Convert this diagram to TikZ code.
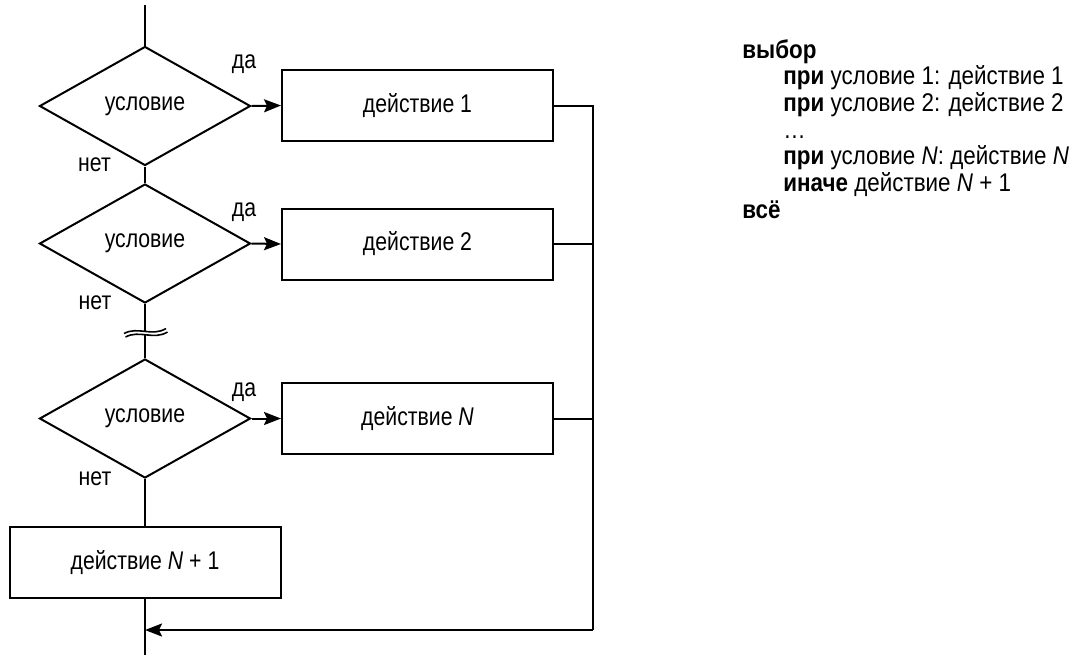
\documentclass[tikz,border=0pt]{standalone}
\usepackage{fontspec}
\setmainfont{Liberation Sans}[FakeStretch=0.83]
\newfontfamily\codefont{Liberation Sans}[FakeStretch=0.875]
\usetikzlibrary{shapes.geometric,arrows.meta}

\begin{document}
\begin{tikzpicture}[x=0.5pt,y=-0.5pt,
  every node/.style={font=\fontsize{12.8}{15}\selectfont},
  line/.style={line width=1pt},
  flow/.style={line width=1pt,-{Stealth[length=8.5pt,width=6.5pt,inset=1.5pt]}},
  brk/.style={line width=0.8pt},
  cond/.style={draw,line width=1pt,diamond,aspect=1.77,inner sep=0pt,
               minimum width=105.5pt,minimum height=59.5pt},
  act/.style={draw,line width=1pt,rectangle,inner sep=0pt,
              minimum width=135.5pt,minimum height=35.5pt},
  lbl/.style={inner sep=0pt},
  code/.style={anchor=base west,inner sep=0pt,
               font=\codefont\fontsize{12.8}{15}\selectfont}]
\useasboundingbox (0,0) rectangle (1079,655);

% decisions
\node[cond] (c1) at (145,106)   {условие};
\node[cond] (c2) at (145,243.5) {условие};
\node[cond] (c3) at (145,418.5) {условие};

% actions
\node[act] (a1) at (417.5,105.5) {действие 1};
\node[act] (a2) at (417.5,244)   {действие 2};
\node[act] (a3) at (417.5,418.5) {действие \textit{N}};
\node[act] (a4) at (145,562.5)   {действие \textit{N} + 1};

% branch labels
\node[lbl] (y1) at (244,64.5)  {да};
\node[lbl] (y2) at (244,212)   {да};
\node[lbl] (y3) at (244,392.5) {да};
\node[lbl] (n1) at (94.5,164.5) {нет};
\node[lbl] (n2) at (95,303)     {нет};
\node[lbl] (n3) at (95,478.5)   {нет};

% helper points on the main line and the return rail
\coordinate (top)  at (145,5);
\coordinate (bot)  at (145,655);
\coordinate (join) at (145,630);
\coordinate (rail) at (593,630);
\coordinate (brkA) at (145,331.4);
\coordinate (brkB) at (145,335);

% main line
\draw[line] (top) -- (c1.north);
\draw[line] (c1.south) -- (c2.north);
\draw[line] (c2.south) -- (brkA);
\draw[line] (brkB) -- (c3.north);
\draw[line] (c3.south) -- (a4.north);
\draw[line] (a4.south) -- (bot);

% break mark
\draw[brk] (124,333.5) .. controls (138,326) and (152,337) .. (166,328.5);
\draw[brk] (125.5,337) .. controls (139.5,329.5) and (153.5,340.5) .. (167.5,332);

% "yes" branches
\draw[flow] (c1.east) -- (a1.west);
\draw[flow] (c2.east) -- (a2.west);
\draw[flow] (c3.east) -- (a3.west);

% return rail
\draw[line] (a1.east) -- (a1.east -| rail) -- (rail);
\draw[line] (a2.east) -- (a2.east -| rail);
\draw[line] (a3.east) -- (a3.east -| rail);
\draw[flow] (rail) -- (join);

% pseudocode
\node[code] (t0) at (742,58)    {\textbf{выбор}};
\node[code] (t1) at (783,84.7)  {\textbf{при} условие 1: действие 1};
\node[code] (t2) at (783,111.3) {\textbf{при} условие 2: действие 2};
\node[code] (t3) at (783,138)   {…};
\node[code] (t4) at (783,164.7) {\textbf{при} условие \textit{N}: действие \textit{N}};
\node[code] (t5) at (783,191.3) {\textbf{иначе} действие \textit{N} + 1};
\node[code] (t6) at (742,218)   {\textbf{всё}};
\end{tikzpicture}
\end{document}
